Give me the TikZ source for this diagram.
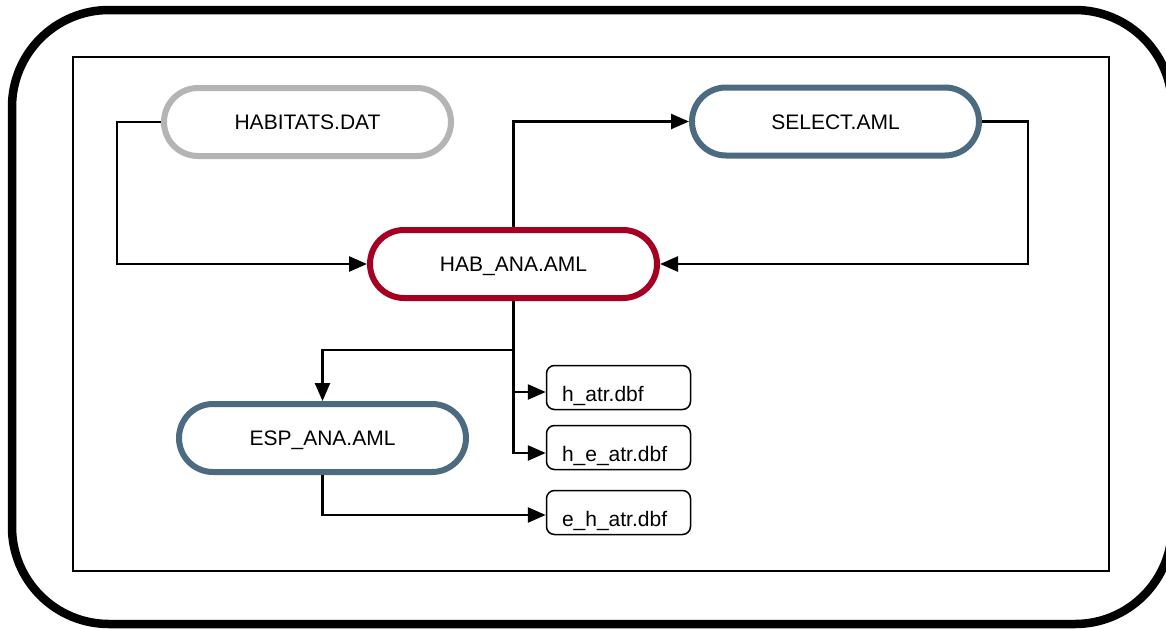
\documentclass[tikz,border=0pt]{standalone}
\usepackage{fontspec}
\setmainfont{Liberation Sans}
\usetikzlibrary{arrows.meta}
\definecolor{pillgray}{HTML}{B4B4B4}
\definecolor{pillblue}{HTML}{4D6B80}
\definecolor{pillred}{HTML}{A50021}
\tikzset{
  pill/.style={draw, line width=6pt, rounded corners=34pt, minimum width=287pt, minimum height=68pt,
    inner sep=0pt, text height=15pt, text depth=0pt, font=\fontsize{21}{24}\selectfont},
  filebox/.style={draw, line width=1.5pt, rounded corners=8pt, minimum height=44pt,
    inner xsep=15.5pt, inner ysep=0pt, text width=113pt, align=left,
    text height=15pt, text depth=0pt, font=\fontsize{21}{24}\selectfont},
  conn/.style={line width=2.5pt, -{Triangle[length=18pt,width=15pt]}},
  frame/.style={draw, line width=2pt},
  outerframe/.style={draw, line width=8.5pt, rounded corners=97pt}
}
\begin{document}
\begin{tikzpicture}[x=1pt, y=-1pt]
\useasboundingbox (0,0) rectangle (1166,629);
\clip (0,0) rectangle (1166,629);
\fill[white] (0,0) rectangle (1166,629);
\draw[outerframe] (12,10) rectangle (1172,624);
\draw[frame] (73,57) rectangle (1109,571);

\node[pill, draw=pillgray] (hab) at (307.5,122) {HABITATS.DAT};
\node[pill, draw=pillblue] (sel) at (835.5,121.5) {SELECT.AML};
\node[pill, draw=pillred] (ana) at (513.5,264) {HAB\_ANA.AML};
\node[pill, draw=pillblue] (esp) at (322.5,438) {ESP\_ANA.AML};
\node[filebox] (hatr) at (618.5,387.5) {\raisebox{-6pt}{h\_atr.dbf}};
\node[filebox] (hea) at (618.5,447.5) {\raisebox{-6pt}{h\_e\_atr.dbf}};
\node[filebox] (eha) at (618.5,512.5) {\raisebox{-6pt}{e\_h\_atr.dbf}};

\coordinate (lx) at (117,0);
\coordinate (rx) at (1028,0);
\coordinate (jn) at (0,350);

\draw[conn] (hab.west) -- (hab.west -| lx) -- (ana.west -| lx) -- (ana.west);
\draw[conn] (ana.north) |- (sel.west);
\draw[conn] (sel.east) -- (sel.east -| rx) -- (ana.east -| rx) -- (ana.east);
\draw[conn] (ana.south) -- (ana.south |- jn) -| (esp.north);
\draw[conn] (ana.south |- jn) |- ([yshift=-4.5pt]hatr.west);
\draw[conn] (ana.south |- jn) |- ([yshift=-5.5pt]hea.west);
\draw[conn] (esp.south) |- ([yshift=-2.5pt]eha.west);
\end{tikzpicture}
\end{document}
